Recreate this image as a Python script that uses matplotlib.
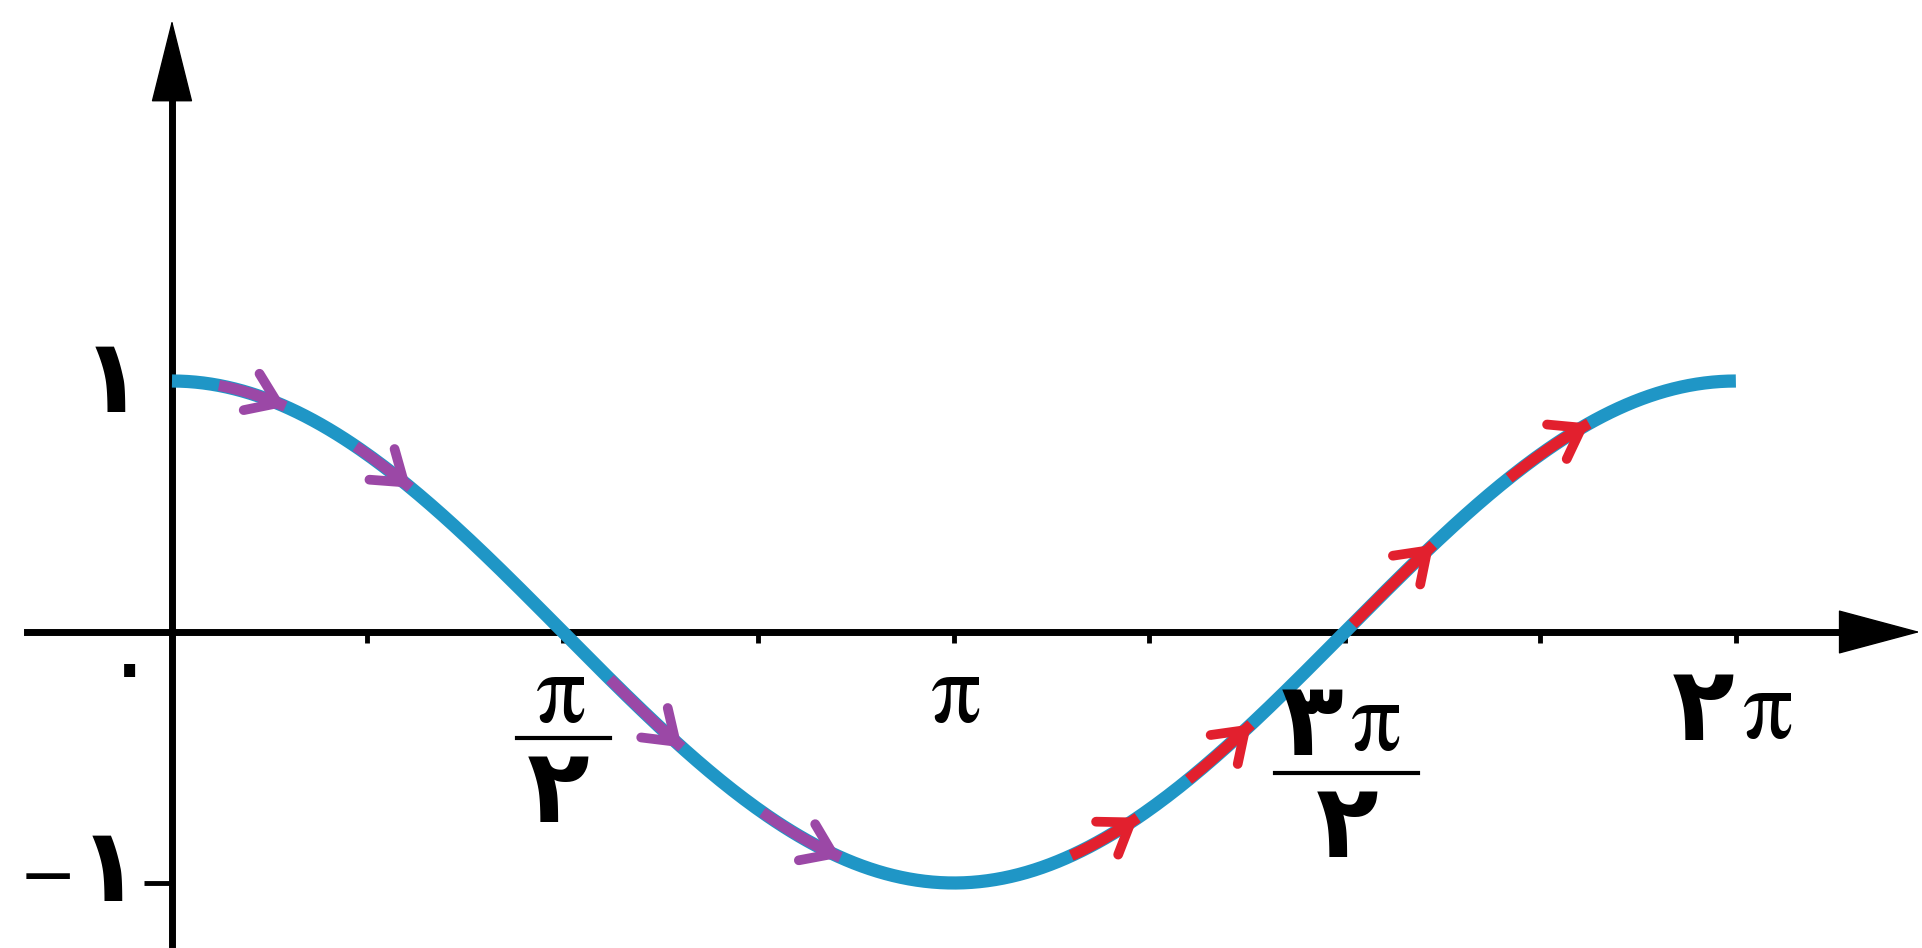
import numpy as np
import matplotlib.pyplot as plt

# curve y = cos(x) on [0, 2pi]
x_start, x_end = 0.0, 2 * np.pi
n_pts = 400

# direction arrows along the curve, start/end in multiples of pi
purple_arrows = [(0.06, 0.145), (0.235, 0.305), (0.56, 0.652), (0.755, 0.855)]
red_arrows = [(1.15, 1.235), (1.30, 1.38), (1.51, 1.613), (1.71, 1.812)]

x_ticks = [k * np.pi / 4 for k in range(1, 9)]
y_ticks = [-1]

curve_col = "#1f96c6"
purple = "#9b48a6"
red = "#e2202e"

plt.rcParams['font.family'] = ['DejaVu Sans']

fig = plt.figure(figsize=(19.22, 9.48), dpi=100)
ax = fig.add_axes([0, 0, 1, 1])
ax.set_xlim(-0.691, 7.031)
ax.set_ylim(-1.259, 2.518)

# axes through the origin
for s in ['top', 'right']:
    ax.spines[s].set_visible(False)
ax.spines['bottom'].set_position(('data', 0))
ax.spines['left'].set_position(('data', 0))
ax.spines['bottom'].set_bounds(-0.583, 6.75)
ax.spines['left'].set_bounds(-1.243, 2.2)
ax.spines['bottom'].set_linewidth(5)
ax.spines['left'].set_linewidth(5)
ax.set_xticks(x_ticks)
ax.set_yticks(y_ticks)
ax.set_xticklabels([])
ax.set_yticklabels([])
ax.tick_params(axis='x', direction='out', length=8, width=3.5)
ax.tick_params(axis='y', direction='out', length=20, width=3.5)

# arrow heads of the axes
ax.annotate('', xy=(7.023, 0), xytext=(6.70, 0),
            arrowprops=dict(arrowstyle='-|>,head_length=2.8,head_width=0.75',
                            mutation_scale=20, color='black', lw=1,
                            shrinkA=0, shrinkB=0))
ax.annotate('', xy=(0, 2.438), xytext=(0, 2.13),
            arrowprops=dict(arrowstyle='-|>,head_length=2.8,head_width=0.7',
                            mutation_scale=20, color='black', lw=1,
                            shrinkA=0, shrinkB=0))

x = np.linspace(x_start, x_end, n_pts)
ax.plot(x, np.cos(x), color=curve_col, lw=9.5, solid_capstyle='butt', zorder=3)


def draw_arrow(a, b, col):
    xs = np.linspace(a * np.pi, b * np.pi, 30)
    ax.plot(xs, np.cos(xs), color=col, lw=8, solid_capstyle='butt', zorder=4)
    x1 = b * np.pi
    x0 = x1 - 0.02
    ax.annotate('', xy=(x1, np.cos(x1)), xytext=(x0, np.cos(x0)),
                arrowprops=dict(arrowstyle='->,head_length=0.6,head_width=0.42',
                                mutation_scale=34, color=col, lw=7,
                                shrinkA=0, shrinkB=0, capstyle='round',
                                joinstyle='miter'),
                zorder=5)


for a, b in purple_arrows:
    draw_arrow(a, b, purple)
for a, b in red_arrows:
    draw_arrow(a, b, red)

# labels: persian digits in DejaVu Sans Bold, pi in STIX
dk = dict(fontsize=74, ha='center', va='baseline', fontweight='bold')
pk = dict(fontsize=72, ha='center', va='baseline', family='STIXGeneral')

ax.text(-0.169, -0.271, '۰', fontsize=74, ha='center', va='baseline')

# pi / 2
ax.text(1.559, -0.359, 'π', **pk)
ax.plot([1.386, 1.760], [-0.422, -0.422], color='black', lw=3)
ax.text(1.551, -0.757, '۲', **dk)

# pi
ax.text(3.146, -0.359, 'π', **pk)

# 3 pi / 2
ax.text(4.580, -0.490, '۳', **dk)
ax.text(4.833, -0.470, 'π', **pk)
ax.plot([4.431, 5.006], [-0.562, -0.562], color='black', lw=3)
ax.text(4.721, -0.896, '۲', **dk)

# 2 pi
ax.text(6.151, -0.430, '۲', **dk)
ax.text(6.408, -0.422, 'π', **pk)

# y labels
ax.text(-0.241, 0.876, '۱', **dk)
ax.text(-0.50, -1.060, '−', fontsize=50, ha='center', va='baseline')
ax.text(-0.255, -1.072, '۱', **dk)

fig.savefig('out.png', dpi=100)
